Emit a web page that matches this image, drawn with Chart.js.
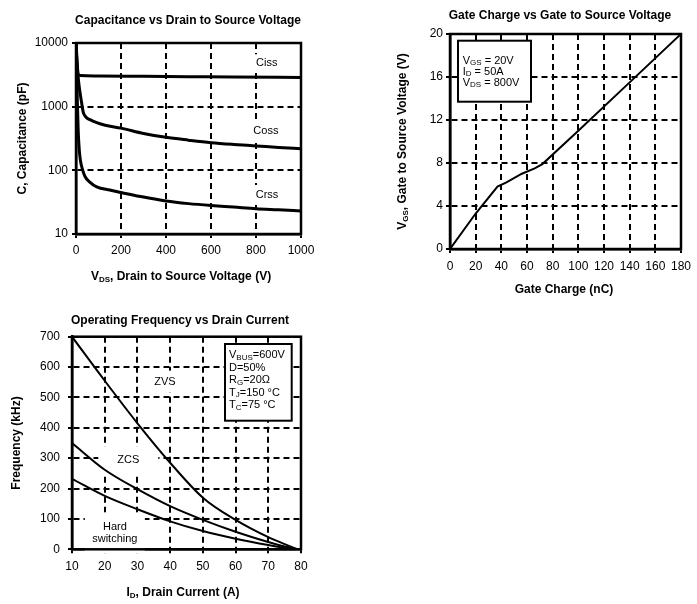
<!DOCTYPE html>
<html>
<head>
<meta charset="utf-8">
<script src="https://cdn.jsdelivr.net/npm/chart.js@4.4.1/dist/chart.umd.min.js"></script>
<style>
  html, body { margin: 0; padding: 0; background: #fff; }
  #wrap { position: relative; width: 697px; height: 604px; }
  .pane { position: absolute; }
  canvas { display: block; }
</style>
</head>
<body>
<div id="wrap">
  <div class="pane" style="left:0;top:0"><canvas id="cap_chart" width="340" height="300"></canvas></div>
  <div class="pane" style="left:350px;top:0"><canvas id="gate_chart" width="347" height="300"></canvas></div>
  <div class="pane" style="left:0;top:300px"><canvas id="freq_chart" width="340" height="304"></canvas></div>
</div>
<script>
const FONT = "'Liberation Sans', Arial, Helvetica, sans-serif";

// capacitance vs Vds
const capTicksY = [10, 100, 1000, 10000];
const cissV = [0, 4, 10, 20, 100, 300, 500, 700, 1000];
const cissC = [10000, 5000, 3200, 3080, 3040, 3000, 2960, 2920, 2880];
const cossV = [0, 4, 8, 12, 18, 25, 32, 45, 60, 92, 130, 200, 300, 400, 500, 600, 700, 800, 900, 1000];
const cossC = [10000, 6000, 3500, 2400, 1650, 1150, 820, 680, 630, 560, 510, 460, 380, 330, 298, 272, 255, 242, 229, 218];
const crssV = [0, 3, 6, 10, 15, 20, 30, 40, 60, 92, 150, 200, 300, 400, 500, 600, 700, 800, 900, 1000];
const crssC = [10000, 4000, 1200, 400, 200, 140, 100, 80, 66, 55, 49, 45, 38, 33, 30, 28, 26.5, 25, 24, 23];

// gate charge
const gateQ = [0, 20, 37, 44, 56, 66, 72, 100, 140, 180];
const gateV = [0, 3.3, 5.8, 6.2, 7.0, 7.5, 7.9, 11.0, 15.5, 20];

// operating frequency vs Id
const freqI = [10, 20, 30, 40, 50, 60, 70, 75, 79];
const zvsF = [700, 555, 415, 285, 170, 97, 40, 17, 0];
const zcsF = [350, 262, 198, 142, 97, 58, 24, 9, 0];
const hardF = [232, 176, 132, 92, 60, 35, 14, 5, 0];

function pts(xs, ys) {
  return xs.map(function (x, i) { return { x: x, y: ys[i] }; });
}

// text with _{sub} parts
function parseRich(s) {
  const out = [];
  const re = /_\{([^}]*)\}/g;
  let last = 0, m;
  while ((m = re.exec(s))) {
    if (m.index > last) out.push([s.slice(last, m.index), false]);
    out.push([m[1], true]);
    last = re.lastIndex;
  }
  if (last < s.length) out.push([s.slice(last), false]);
  return out;
}

function drawRich(ctx, s, x, y, size, bold, align) {
  const parts = parseRich(s);
  const main = (bold ? "bold " : "") + size + "px " + FONT;
  const sub = (bold ? "bold " : "") + Math.round(size * 0.7) + "px " + FONT;
  let w = 0;
  parts.forEach(function (p) { ctx.font = p[1] ? sub : main; w += ctx.measureText(p[0]).width; });
  let cx = align === "center" ? x - w / 2 : x;
  ctx.textAlign = "left";
  ctx.textBaseline = "middle";
  parts.forEach(function (p) {
    ctx.font = p[1] ? sub : main;
    ctx.fillText(p[0], cx, p[1] ? y + size * 0.22 : y);
    cx += ctx.measureText(p[0]).width;
  });
}

const sheetPlugin = {
  id: "sheet",
  beforeDatasetsDraw(chart, args, opts) {
    const ctx = chart.ctx;
    const xs = chart.scales.x, ys = chart.scales.y;
    (opts.labels || []).forEach(function (l) {
      const px = xs.getPixelForValue(l.x), py = ys.getPixelForValue(l.y);
      ctx.save();
      ctx.fillStyle = "#fff";
      ctx.fillRect(px - l.w / 2, py - l.h / 2, l.w, l.h);
      ctx.fillStyle = "#000";
      const n = l.lines.length;
      l.lines.forEach(function (t, i) {
        drawRich(ctx, t, px, py + (i - (n - 1) / 2) * 12.5, 11, false, "center");
      });
      ctx.restore();
    });
  },
  afterDatasetsDraw(chart, args, opts) {
    const ctx = chart.ctx, a = chart.chartArea;
    ctx.save();
    ctx.strokeStyle = "#000";
    ctx.lineWidth = 2.5;
    ctx.strokeRect(a.left, a.top, a.right - a.left, a.bottom - a.top);
    const note = opts.note;
    if (note) {
      const bx = a.left + note.x, by = a.top + note.y;
      ctx.fillStyle = "#fff";
      ctx.fillRect(bx, by, note.w, note.h);
      ctx.lineWidth = 2;
      ctx.strokeRect(bx, by, note.w, note.h);
      ctx.fillStyle = "#000";
      note.lines.forEach(function (t, i) {
        drawRich(ctx, t, bx + note.pad, by + note.first + i * note.step, 11, false, "left");
      });
    }
    ctx.restore();
  },
  afterDraw(chart, args, opts) {
    const ctx = chart.ctx;
    ctx.save();
    ctx.fillStyle = "#000";
    drawRich(ctx, opts.title[0], opts.title[1], opts.title[2], 12, true, "center");
    drawRich(ctx, opts.xTitle[0], opts.xTitle[1], opts.xTitle[2], 12, true, "center");
    ctx.translate(opts.yTitle[1], opts.yTitle[2]);
    ctx.rotate(-Math.PI / 2);
    drawRich(ctx, opts.yTitle[0], 0, 0, 12, true, "center");
    ctx.restore();
  },
};

function axis(extra, size, tickPad, isY) {
  const ticks = Object.assign({
    color: "#000",
    font: { family: FONT, size: 12 },
    padding: tickPad,
    maxRotation: 0,
    autoSkip: false,
    callback: function (v) { return String(v); },
  }, extra.ticks || {});
  return Object.assign({
    type: "linear",
    grid: { color: "#000", lineWidth: 2, tickLength: 4, tickWidth: 2, tickColor: "#000", tickBorderDash: [] },
    border: { display: true, color: "#000", width: 2.5, dash: [6, 4] },
    afterFit: function (s) {
      if (isY) s.width = size;
      else s.height = size;
    },
  }, extra, { ticks: ticks });
}

function curve(data, width) {
  return {
    data: data,
    borderColor: "#000",
    borderWidth: width,
    pointRadius: 0,
    fill: false,
    cubicInterpolationMode: "monotone",
  };
}

const common = {
  responsive: false,
  animation: false,
  devicePixelRatio: 1,
  events: [],
};

// chart 1
new Chart(document.getElementById("cap_chart"), {
  type: "line",
  data: {
    datasets: [
      curve(pts(cissV, cissC), 3),
      curve(pts(cossV, cossC), 3),
      curve(pts(crssV, crssC), 3),
    ],
  },
  options: Object.assign({}, common, {
    layout: { padding: { top: 43, right: 39, left: 0, bottom: 0 } },
    scales: {
      x: axis({ min: 0, max: 1000, ticks: { stepSize: 200 } }, 66, 5, false),
      y: axis({
        type: "logarithmic", min: 10, max: 10000,
        afterBuildTicks: function (s) { s.ticks = capTicksY.map(function (v) { return { value: v }; }); },
      }, 76, 4, true),
    },
    plugins: {
      legend: { display: false },
      tooltip: { enabled: false },
      sheet: {
        title: ["Capacitance vs Drain to Source Voltage", 188, 20.5],
        xTitle: ["V_{DS}, Drain to Source Voltage (V)", 181, 277],
        yTitle: ["C, Capacitance (pF)", 23, 138.5],
        labels: [
          { lines: ["Ciss"], x: 848, y: 4800, w: 30, h: 18 },
          { lines: ["Coss"], x: 844, y: 420, w: 30, h: 18 },
          { lines: ["Crss"], x: 849, y: 41, w: 30, h: 20 },
        ],
      },
    },
  }),
  plugins: [sheetPlugin],
});

// chart 2
new Chart(document.getElementById("gate_chart"), {
  type: "line",
  data: { datasets: [Object.assign(curve(pts(gateQ, gateV), 2), { cubicInterpolationMode: "default", tension: 0 })] },
  options: Object.assign({}, common, {
    layout: { padding: { top: 34, right: 13, left: 0, bottom: 0 } },
    scales: {
      x: axis({ min: 0, max: 180, ticks: { stepSize: 20 } }, 51, 6, false),
      y: axis({ min: 0, max: 20, ticks: { stepSize: 4 } }, 100, 3, true),
    },
    plugins: {
      legend: { display: false },
      tooltip: { enabled: false },
      sheet: {
        title: ["Gate Charge vs Gate to Source Voltage", 210, 15.5],
        xTitle: ["Gate Charge (nC)", 214, 290],
        yTitle: ["V_{GS}, Gate to Source Voltage (V)", 53, 141.5],
        note: {
          x: 8, y: 6.7, w: 73, h: 61, pad: 4.7, first: 20, step: 11,
          lines: ["V_{GS} = 20V", "I_{D} = 50A", "V_{DS} = 800V"],
        },
      },
    },
  }),
  plugins: [sheetPlugin],
});

// chart 3
new Chart(document.getElementById("freq_chart"), {
  type: "line",
  data: {
    datasets: [
      curve(pts(freqI, zvsF), 2),
      curve(pts(freqI, zcsF), 2),
      curve(pts(freqI, hardF), 2),
    ],
  },
  options: Object.assign({}, common, {
    layout: { padding: { top: 36.7, right: 39, left: 0, bottom: 0 } },
    scales: {
      x: axis({ min: 10, max: 80, ticks: { stepSize: 10 } }, 54.7, 6, false),
      y: axis({ min: 0, max: 700, ticks: { stepSize: 100 } }, 72, 8, true),
    },
    plugins: {
      legend: { display: false },
      tooltip: { enabled: false },
      sheet: {
        title: ["Operating Frequency vs Drain Current", 180, 20.5],
        xTitle: ["I_{D}, Drain Current (A)", 183, 293],
        yTitle: ["Frequency (kHz)", 17, 143],
        labels: [
          { lines: ["ZVS"], x: 38.4, y: 552, w: 34, h: 22 },
          { lines: ["ZCS"], x: 27.2, y: 294, w: 60, h: 27 },
          { lines: ["Hard", "switching"], x: 23.1, y: 54, w: 60, h: 41 },
        ],
        note: {
          x: 153, y: 7.3, w: 66.7, h: 76.7, pad: 4, first: 11, step: 12.5,
          lines: ["V_{BUS}=600V", "D=50%", "R_{G}=20\u03A9", "T_{J}=150 \u00B0C", "T_{C}=75 \u00B0C"],
        },
      },
    },
  }),
  plugins: [sheetPlugin],
});
</script>
</body>
</html>
